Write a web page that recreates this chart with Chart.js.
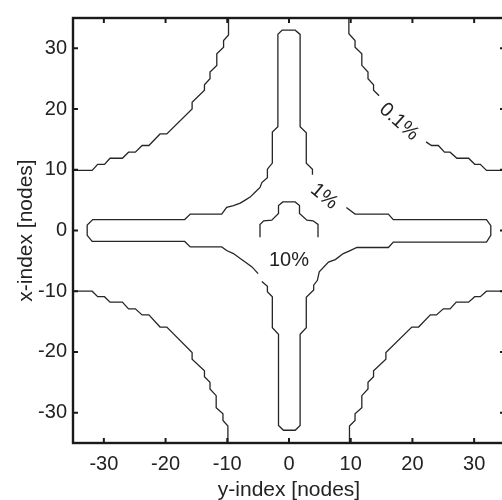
<!DOCTYPE html>
<html>
<head>
<meta charset="utf-8">
<title>Contour</title>
<script src="https://cdn.jsdelivr.net/npm/chart.js@4.4.1/dist/chart.umd.min.js"></script>
<style>
    html, body { margin: 0; padding: 0; background: #fff; overflow: hidden; }
    #wrap { position: relative; width: 508px; height: 500px; }
</style>
</head>
<body>
<div id="wrap"><canvas id="chart"></canvas></div>
<script>
// Contour plot - Chart.js
(function () {
    const xTicks = [-30, -20, -10, 0, 10, 20, 30];
    const yTicks = [-30, -20, -10, 0, 10, 20, 30];

    // --- 0.1% contour, one piece per quadrant ---
    const c01TopLeft = [[-9.8,35],[-9.8,32.2],[-10.6,31.3],[-10.6,30.2],[-11.7,29.1],[-11.7,27.2],[-12.8,26.1],[-12.8,25],[-13.7,24],[-13.7,23.1],[-15.7,21.1],[-15.7,20],[-19.8,15.9],[-20.9,15.9],[-22.7,14],[-23.8,14],[-24.9,12.9],[-26,12.9],[-27,11.9],[-29,11.9],[-29.9,10.9],[-31,10.9],[-31.9,9.9],[-35,9.9]];
    const c01TopRightA = [[9.7,35],[9.7,32.4],[10.7,31.3],[10.7,30.2],[11.8,29.1],[11.8,27.2],[12.8,26.1],[12.8,25],[13.7,24],[13.7,23.1],[14.6,22.2]];
    const c01TopRightB = [[22.2,14.6],[23.1,14],[24.2,14],[25.2,12.9],[26.1,12.9],[27.2,11.9],[29.1,11.9],[30.1,10.9],[31,10.9],[32,9.9],[35,9.9]];
    const c01BottomLeft = [[-35,-10],[-31.9,-10],[-31,-10.9],[-29.9,-10.9],[-29,-11.8],[-27,-11.8],[-26,-12.9],[-24.9,-12.9],[-23.8,-13.9],[-22.7,-13.9],[-20.9,-15.9],[-19.8,-15.9],[-15.7,-20.1],[-15.7,-21.2],[-13.7,-23.1],[-13.7,-24.1],[-12.8,-25],[-12.8,-26.1],[-11.8,-27.2],[-11.8,-29.2],[-10.7,-30.2],[-10.7,-31.3],[-9.9,-32.2],[-9.9,-35]];
    const c01BottomRight = [[9.8,-35],[9.8,-32.2],[10.7,-31.3],[10.7,-30.2],[11.8,-29.2],[11.8,-27.2],[12.8,-26.1],[12.8,-25],[13.7,-24.1],[13.7,-23.1],[15.7,-21.2],[15.7,-20.1],[19.9,-15.9],[21,-15.9],[22.9,-13.9],[23.9,-13.9],[25,-12.9],[26.1,-12.9],[27.1,-11.8],[29.1,-11.8],[30.1,-10.9],[31,-10.9],[32,-10],[35,-10]];

    // --- 1% contour (the cross), broken where labels sit ---
    const c1Main = [[3.8,9.2],[3.8,10.1],[2.8,11.1],[2.8,16.1],[1.8,17.1],[1.8,32.3],[1.0,33],[-1.1,33],[-1.8,32.3],[-1.8,17.1],[-2.7,16.2],[-2.7,11.1],[-3.5,10.1],[-3.5,8.7],[-4.4,7.9],[-4.7,7.1],[-5.5,6.3],[-6.3,5.5],[-7.1,5.0],[-7.9,4.5],[-9.0,4.1],[-10.1,3.8],[-10.9,2.7],[-16.0,2.7],[-16.9,1.8],[-31.8,1.8],[-32.7,0.9],[-32.7,-0.8],[-31.9,-1.8],[-16.9,-1.8],[-16.0,-2.7],[-10.9,-2.7],[-10.1,-3.3],[-9.0,-3.8],[-7.9,-4.6],[-7.1,-5.2],[-6.0,-6.0],[-5.0,-7.1]];
    const c1Lower = [[-4.4,-8.4],[-3.5,-9.2],[-3.5,-10.1],[-2.7,-10.9],[-2.7,-16.0],[-1.7,-17.1],[-1.7,-32.1],[-0.9,-32.9],[1.0,-32.9],[1.8,-32.1],[1.8,-17.1],[2.8,-16.0],[2.8,-11.0],[4.0,-9.8],[4.0,-9.0],[4.6,-8.2],[4.9,-6.8],[6.4,-5.2],[7.5,-4.8],[8.8,-3.8],[9.9,-3.3],[11.0,-2.8],[16.1,-2.8],[16.9,-1.9],[32.0,-1.9],[32.7,-0.8],[32.7,0.8],[32.0,1.8],[16.9,1.8],[16.1,2.7],[10.7,2.7],[9.3,3.8]];

    // --- 10% contour (arch round the centre) ---
    const c10Arch = [[-4.7,-1.1],[-4.7,1.0],[-4.1,1.6],[-2.8,1.7],[-1.7,2.8],[-1.7,4.1],[-1.0,4.7],[1.0,4.7],[1.7,4.1],[1.7,2.8],[2.9,1.7],[3.9,1.6],[4.7,1.0],[4.7,-1.1]];

    const segments = [c01TopLeft, c01TopRightA, c01TopRightB, c01BottomLeft, c01BottomRight, c1Main, c1Lower, c10Arch];

    const labelText = ['0.1%', '1%', '10%'];
    const labelX = [17.8, 5.7, 0];
    const labelY = [17.9, 5.6, -5.0];
    const labelAngle = [42, 40, 0];

    const FONT = 'Helvetica, Arial, "Liberation Sans", sans-serif';
    const INK = '#1a1a1a';

    // --- Box, inward ticks and contour labels ---
    const framePlugin = {
        id: 'frame',
        afterDatasetsDraw(chart) {
            const ctx = chart.ctx;
            const xs = chart.scales.x;
            const ys = chart.scales.y;
            ctx.save();
            ctx.fillStyle = '#222';
            ctx.font = '20px ' + FONT;
            ctx.textAlign = 'center';
            ctx.textBaseline = 'middle';
            labelText.forEach(function (t, i) {
                ctx.save();
                ctx.translate(xs.getPixelForValue(labelX[i]), ys.getPixelForValue(labelY[i]));
                ctx.rotate(labelAngle[i] * Math.PI / 180);
                ctx.fillText(t, 0, 0);
                ctx.restore();
            });
            ctx.restore();
        },
        afterDraw(chart) {
            const ctx = chart.ctx;
            const a = chart.chartArea;
            const xs = chart.scales.x;
            const ys = chart.scales.y;
            const len = 5;
            ctx.save();
            ctx.strokeStyle = INK;
            ctx.lineWidth = 2.4;
            ctx.strokeRect(a.left, a.top, a.right - a.left, a.bottom - a.top);
            ctx.lineWidth = 2;
            ctx.beginPath();
            xTicks.forEach(function (v) {
                const px = xs.getPixelForValue(v);
                ctx.moveTo(px, a.bottom); ctx.lineTo(px, a.bottom - len);
                ctx.moveTo(px, a.top); ctx.lineTo(px, a.top + len);
            });
            yTicks.forEach(function (v) {
                const py = ys.getPixelForValue(v);
                ctx.moveTo(a.left, py); ctx.lineTo(a.left + len, py);
                ctx.moveTo(a.right, py); ctx.lineTo(a.right - len, py);
            });
            ctx.stroke();
            ctx.restore();
        }
    };

    const datasets = segments.map(function (seg) {
        return {
            data: seg.map(p => ({ x: p[0], y: p[1] })),
            showLine: true,
            borderColor: '#262626',
            borderWidth: 1.3,
            pointRadius: 0,
            tension: 0,
            fill: false
        };
    });

    new Chart(document.getElementById('chart').getContext('2d'), {
        type: 'scatter',
        data: { datasets: datasets },
        plugins: [framePlugin],
        options: {
            responsive: true,
            maintainAspectRatio: false,
            animation: false,
            layout: { padding: { top: 12, right: 3, bottom: 0, left: 0 } },
            plugins: { legend: { display: false }, tooltip: { enabled: false } },
            scales: {
                x: {
                    type: 'linear',
                    min: -35,
                    max: 35,
                    afterBuildTicks: s => { s.ticks = xTicks.map(v => ({ value: v })); },
                    afterFit: s => { s.height = 57; },
                    grid: { display: false, drawTicks: false },
                    border: { display: false },
                    ticks: { color: '#222', padding: 9, maxRotation: 0, font: { size: 20, family: FONT } },
                    title: { display: true, text: 'y-index [nodes]', color: '#222', padding: { top: 0, bottom: -3 }, font: { size: 21, family: FONT } }
                },
                y: {
                    type: 'linear',
                    min: -35,
                    max: 35,
                    afterBuildTicks: s => { s.ticks = yTicks.map(v => ({ value: v })); },
                    afterFit: s => { s.width = 73; },
                    grid: { display: false, drawTicks: false },
                    border: { display: false },
                    ticks: { color: '#222', padding: 6, font: { size: 20, family: FONT } },
                    title: { display: true, text: 'x-index [nodes]', color: '#222', padding: { top: 14, bottom: 0 }, font: { size: 21, family: FONT } }
                }
            }
        }
    });
})();
</script>
</body>
</html>
